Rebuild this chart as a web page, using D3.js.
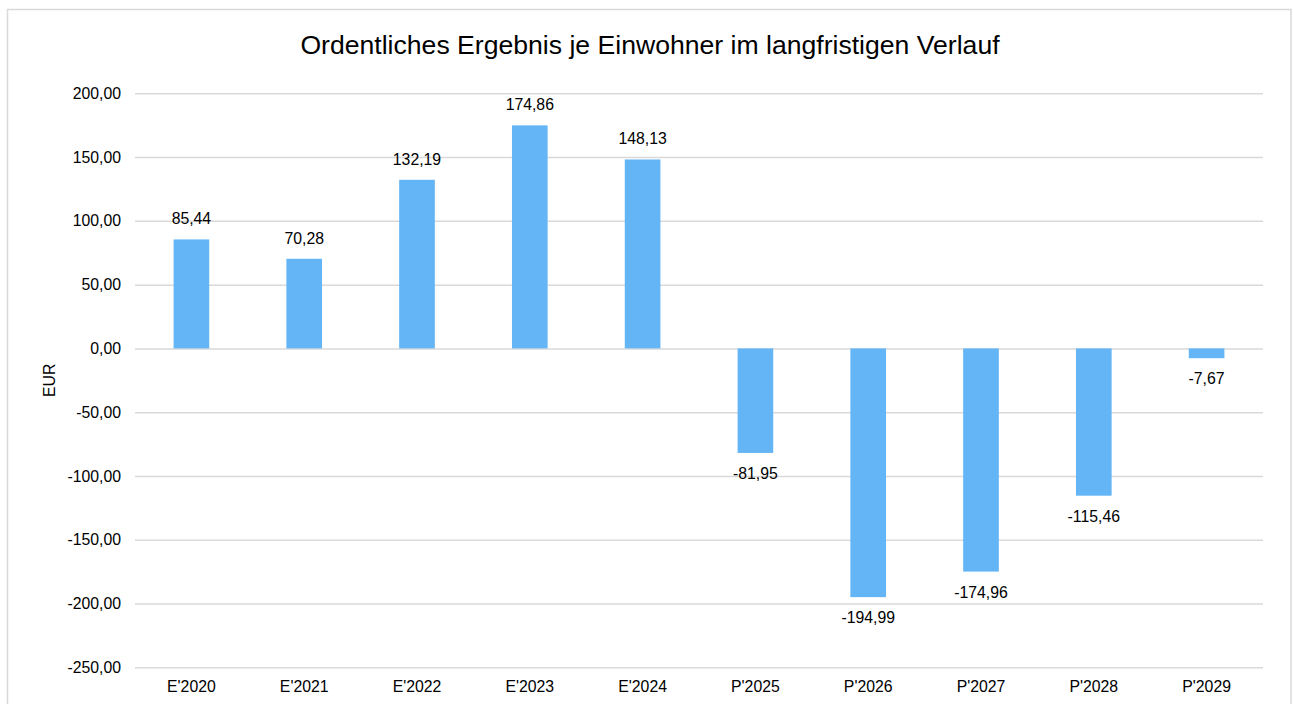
<!DOCTYPE html>
<html>
<head>
<meta charset="utf-8">
<script src="https://cdn.jsdelivr.net/npm/d3@7"></script>
<style>
  body { margin: 0; background: #fff; }
  svg text { font-family: "Liberation Sans", Arial, sans-serif; fill: #000; }
</style>
</head>
<body>
<svg id="chart" width="1293" height="704"></svg>
<script>
const CATEGORIES = ["E'2020", "E'2021", "E'2022", "E'2023", "E'2024", "P'2025", "P'2026", "P'2027", "P'2028", "P'2029"];
const VALUES     = [85.44, 70.28, 132.19, 174.86, 148.13, -81.95, -194.99, -174.96, -115.46, -7.67];
const Y_TICKS    = [200, 150, 100, 50, 0, -50, -100, -150, -200, -250];

const TITLE   = 'Ordentliches Ergebnis je Einwohner im langfristigen Verlauf';
const Y_LABEL = 'EUR';

const PLOT_LEFT   = 135;
const PLOT_RIGHT  = 1263;
const PLOT_TOP    = 93.3;
const PLOT_BOTTOM = 667.3;

const BAR_COLOR  = '#64b5f6';
const GRID_COLOR = '#d9d9d9';
const FONT_SIZE  = 15.8;

// german number format with plain hyphen for negatives
const deLocale = d3.formatLocale({ decimal: ',', thousands: '.', grouping: [3], currency: ['', ' €'], minus: '-' });
const deFormat = deLocale.format(',.2f');

const svg = d3.select('#chart');

// outer frame
svg.append('rect')
    .attr('x', 7.5)
    .attr('y', 9.5)
    .attr('width', 1283.5)
    .attr('height', 720)
    .attr('fill', 'none')
    .attr('stroke', GRID_COLOR)
    .attr('stroke-width', 1.5);

let x = d3.scaleBand()
    .domain(CATEGORIES)
    .range([PLOT_LEFT, PLOT_RIGHT])
    .paddingInner(0.684)
    .paddingOuter(0.342);

let y = d3.scaleLinear()
    .domain([-250, 200])
    .range([PLOT_BOTTOM, PLOT_TOP]);

// gridlines + tick labels
let yAxis = d3.axisLeft(y)
    .tickValues(Y_TICKS)
    .tickSize(-(PLOT_RIGHT - PLOT_LEFT))
    .tickPadding(14)
    .tickFormat(deFormat);

let yAxisG = svg.append('g')
    .attr('transform', `translate(${PLOT_LEFT},0)`)
    .call(yAxis);

yAxisG.select('.domain').remove();
yAxisG.selectAll('.tick line')
    .attr('stroke', GRID_COLOR)
    .attr('stroke-width', 1.5);
yAxisG.selectAll('.tick text')
    .attr('font-size', FONT_SIZE)
    .attr('fill', '#000');

// bars
svg.append('g')
    .selectAll('rect')
    .data(VALUES)
    .join('rect')
    .attr('x', (d, i) => x(CATEGORIES[i]))
    .attr('width', x.bandwidth())
    .attr('y', d => y(Math.max(0, d)))
    .attr('height', d => Math.abs(y(d) - y(0)))
    .attr('fill', BAR_COLOR);

// value labels
svg.append('g')
    .selectAll('text')
    .data(VALUES)
    .join('text')
    .attr('x', (d, i) => x(CATEGORIES[i]) + x.bandwidth() / 2)
    .attr('y', d => d >= 0 ? y(d) - 15 : y(d) + 26)
    .attr('text-anchor', 'middle')
    .attr('font-size', FONT_SIZE)
    .text(d => deFormat(d));

// category labels
let xAxis = d3.axisBottom(x).tickSize(0).tickPadding(0);
let xAxisG = svg.append('g')
    .attr('transform', `translate(0,${PLOT_BOTTOM})`)
    .call(xAxis);
xAxisG.select('.domain').remove();
xAxisG.selectAll('.tick text')
    .attr('font-size', FONT_SIZE)
    .attr('fill', '#000')
    .attr('dy', null)
    .attr('y', 24.5);

// y axis title
svg.append('text')
    .attr('transform', `translate(55,${(PLOT_TOP + PLOT_BOTTOM) / 2}) rotate(-90)`)
    .attr('text-anchor', 'middle')
    .attr('font-size', FONT_SIZE)
    .text(Y_LABEL);

// chart title
svg.append('text')
    .attr('x', 650)
    .attr('y', 54)
    .attr('text-anchor', 'middle')
    .attr('font-size', 26.6)
    .text(TITLE);
</script>
</body>
</html>
